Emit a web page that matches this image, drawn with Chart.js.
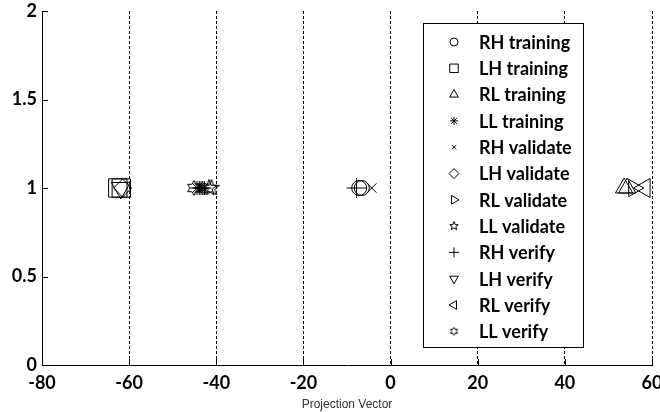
<!DOCTYPE html>
<html>
<head>
<meta charset="utf-8">
<script src="https://cdn.jsdelivr.net/npm/chart.js@4/dist/chart.umd.min.js"></script>
<style>
  html, body { margin: 0; padding: 0; background: #fff; }
  #wrap { width: 660px; height: 412px; }
</style>
</head>
<body>
<div id="wrap"><canvas id="c" width="660" height="412"></canvas></div>
<script>
// Series names, in legend order
const seriesLabels = [
  'RH training', 'LH training', 'RL training', 'LL training',
  'RH validate', 'LH validate', 'RL validate', 'LL validate',
  'RH verify', 'LH verify', 'RL verify', 'LL verify'
];

// Projection values (x) and their plotted level (y) for each series
const rhTrainingX = [-7.2, -6.6];            const rhTrainingY = [1, 1];
const lhTrainingX = [-62.6, -61.8];          const lhTrainingY = [1, 1];
const rlTrainingX = [53.6, 54.3];            const rlTrainingY = [1, 1];
const llTrainingX = [-44.4, -43.9, -43.5, -43.1, -42.7]; const llTrainingY = [1, 1, 1, 1, 1];
const rhValidateX = [-4.3];                  const rhValidateY = [1];
const lhValidateX = [-61.5];                 const lhValidateY = [1];
const rlValidateX = [55.8];                  const rlValidateY = [1];
const llValidateX = [-41.7, -41.1];          const llValidateY = [1, 1];
const rhVerifyX = [-7.8];                    const rhVerifyY = [1];
const lhVerifyX = [-61.9];                   const lhVerifyY = [1];
const rlVerifyX = [58.3];                    const rlVerifyY = [1];
const llVerifyX = [-45.1];                   const llVerifyY = [1];

// Axis ticks
const xTicks = [-80, -60, -40, -20, 0, 20, 40, 60];
const yTicks = [0, 0.5, 1, 1.5, 2];

// Outline star markers drawn onto small canvases
function starCanvas(points, outer, inner) {
  const size = Math.ceil(outer * 2 + 3);
  const cv = document.createElement('canvas');
  cv.width = size; cv.height = size;
  const g = cv.getContext('2d');
  const c = size / 2;
  g.beginPath();
  for (let i = 0; i < points * 2; i++) {
    const r = i % 2 === 0 ? outer : inner;
    const a = -Math.PI / 2 + i * Math.PI / points;
    const px = c + r * Math.cos(a), py = c + r * Math.sin(a);
    if (i === 0) g.moveTo(px, py); else g.lineTo(px, py);
  }
  g.closePath();
  g.strokeStyle = '#000';
  g.lineWidth = 1;
  g.stroke();
  return cv;
}
const pentagram = starCanvas(5, 8.5, 3.4);
const hexagram = starCanvas(6, 7.5, 4.3);
const pentagramSmall = starCanvas(5, 4.5, 1.9);
const hexagramSmall = starCanvas(6, 4, 2.3);

function toPoints(xs, ys) {
  return xs.map((x, i) => ({ x: x, y: ys[i] }));
}

// Marker styles for each series: [style, rotation, radius, legend style, legend radius]
const markers = [
  ['circle', 0, 7.5, 'circle', 4],
  ['rect', 0, 13, 'rect', 6],
  ['triangle', 0, 10, 'triangle', 5],
  ['star', 0, 7, 'star', 4],
  ['crossRot', 0, 6.5, 'crossRot', 3],
  ['rectRot', 0, 9, 'rectRot', 5],
  ['triangle', 90, 10, 'triangle', 5],
  [pentagram, 0, 8, pentagramSmall, 4],
  ['cross', 0, 10, 'cross', 5],
  ['triangle', 180, 11, 'triangle', 5],
  ['triangle', 270, 11, 'triangle', 5],
  [hexagram, 0, 7, hexagramSmall, 4]
];

const xsList = [rhTrainingX, lhTrainingX, rlTrainingX, llTrainingX, rhValidateX, lhValidateX,
                rlValidateX, llValidateX, rhVerifyX, lhVerifyX, rlVerifyX, llVerifyX];
const ysList = [rhTrainingY, lhTrainingY, rlTrainingY, llTrainingY, rhValidateY, lhValidateY,
                rlValidateY, llValidateY, rhVerifyY, lhVerifyY, rlVerifyY, llVerifyY];

const datasets = seriesLabels.map((label, i) => ({
  label: label,
  data: toPoints(xsList[i], ysList[i]),
  pointStyle: markers[i][0],
  rotation: markers[i][1],
  pointRadius: markers[i][2],
  pointBorderColor: '#000',
  pointBackgroundColor: 'rgba(0,0,0,0)',
  pointBorderWidth: 1,
  showLine: false
}));

const tickFont = { family: 'Lato', size: 18, weight: 'bold' };

// Short inward tick marks on the left and bottom axes
const axisTicks = {
  id: 'axisTicks',
  afterDraw(chart) {
    const { ctx, chartArea: a } = chart;
    const xs = chart.scales.x, ys = chart.scales.y;
    ctx.save();
    ctx.strokeStyle = '#000';
    ctx.lineWidth = 1;
    ctx.beginPath();
    xTicks.forEach(v => {
      const px = Math.round(xs.getPixelForValue(v)) + 0.5;
      ctx.moveTo(px, a.bottom);
      ctx.lineTo(px, a.bottom - 6);
    });
    yTicks.forEach(v => {
      const py = Math.round(ys.getPixelForValue(v)) + 0.5;
      ctx.moveTo(a.left, py);
      ctx.lineTo(a.left + 6, py);
    });
    ctx.stroke();
    ctx.restore();
  }
};

// Boxed legend inside the plot, upper right
const boxLegend = {
  id: 'boxLegend',
  afterDraw(chart) {
    const { ctx } = chart;
    const left = 423.5, top = 23.5, width = 160, height = 324;
    ctx.save();
    ctx.fillStyle = '#fff';
    ctx.fillRect(left, top, width, height);
    ctx.strokeStyle = '#000';
    ctx.lineWidth = 1;
    ctx.strokeRect(left, top, width, height);
    ctx.textBaseline = 'middle';
    ctx.textAlign = 'left';
    chart.data.datasets.forEach((ds, i) => {
      const y = 42 + i * 26.3;
      ctx.fillStyle = 'rgba(0,0,0,0)';
      ctx.strokeStyle = '#000';
      ctx.lineWidth = 1;
      Chart.helpers.drawPoint(ctx, {
        pointStyle: markers[i][3],
        rotation: markers[i][1],
        radius: markers[i][4],
        borderWidth: 1
      }, 454, y);
      ctx.font = 'bold 18px Lato';
      ctx.fillStyle = '#000';
      ctx.fillText(ds.label, 479, y + 1);
    });
    ctx.restore();
  }
};

new Chart(document.getElementById('c'), {
  type: 'scatter',
  data: { datasets: datasets },
  options: {
    responsive: false,
    animation: false,
    devicePixelRatio: 1,
    layout: { autoPadding: false, padding: { top: 11, right: 8, left: 0, bottom: 0 } },
    plugins: { legend: { display: false }, tooltip: { enabled: false } },
    scales: {
      x: {
        type: 'linear',
        min: -80, max: 60,
        afterBuildTicks(s) { s.ticks = xTicks.map(v => ({ value: v })); },
        afterFit(s) { s.height = 47; s.paddingLeft = 0; s.paddingRight = 0; },
        ticks: { font: tickFont, color: '#000', padding: 7, maxRotation: 0, autoSkip: false,
                 callback: v => String(v) },
        grid: { display: true, color: '#000', lineWidth: 1, drawTicks: false },
        border: { display: true, color: '#000', width: 1, dash: [3, 2] },
        title: {
          display: true, text: 'Projection Vector', color: '#333',
          font: { family: 'Liberation Sans', size: 12 }, padding: { top: 1, bottom: 0 }
        }
      },
      y: {
        type: 'linear',
        min: 0, max: 2,
        afterBuildTicks(s) { s.ticks = yTicks.map(v => ({ value: v })); },
        afterFit(s) { s.width = 42; s.paddingTop = 0; s.paddingBottom = 0; },
        ticks: { font: tickFont, color: '#000', padding: 5, callback: v => String(v) },
        grid: { display: false, drawTicks: false },
        border: { display: true, color: '#000', width: 1 }
      }
    }
  },
  plugins: [axisTicks, boxLegend]
});
</script>
</body>
</html>
